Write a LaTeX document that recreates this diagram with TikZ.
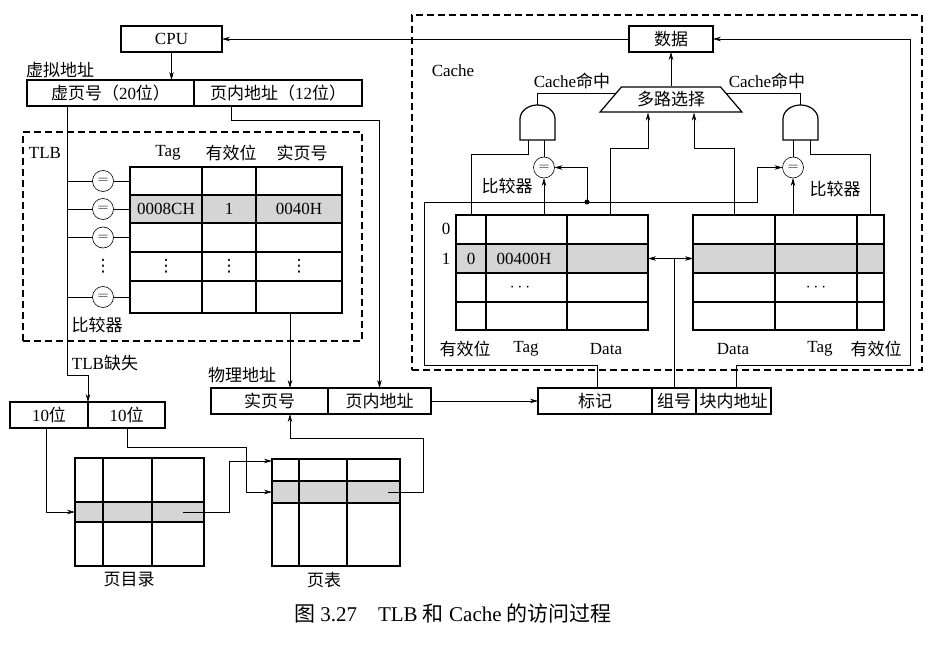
\documentclass[tikz,border=0pt]{standalone}
\usepackage{fontspec}
\setmainfont{Liberation Serif}
\newfontfamily\zhfont{Noto Sans CJK SC}
\newfontfamily\symfont{DejaVu Sans}
\newcommand{\zh}[1]{{\zhfont #1}}
\newcommand{\vdts}{{\symfont ⋮}}
\usetikzlibrary{arrows.meta, positioning, calc, shapes.geometric}

\begin{document}
\begin{tikzpicture}[x=1pt, y=-1pt, >={Stealth[length=8pt,width=4.5pt]}, line width=0.6pt,
    font=\fontsize{17}{19}\selectfont,
    field/.style={rectangle, draw, line width=1.2pt, minimum height=26pt, inner sep=0pt, outer sep=0pt},
    tbl/.style={rectangle, draw, line width=1.2pt, inner sep=0pt, outer sep=0pt},
    sel/.style={rectangle, fill=gray!33, inner sep=0pt, outer sep=0pt},
    grid line/.style={line width=1.2pt},
    cmp/.style={circle, draw, minimum size=21pt, inner sep=0pt, outer sep=0pt, font=\fontsize{14}{14}\selectfont},
    gatebox/.style={minimum width=35pt, minimum height=35pt, inner sep=0pt, outer sep=0pt},
    dashbox/.style={rectangle, draw, line width=1.2pt, dash pattern=on 7pt off 4pt, inner sep=0pt},
    lbl/.style={inner sep=0pt}]
    \useasboundingbox (0,0) rectangle (932,647);

    % CPU and virtual address
    \node[field, minimum width=101pt] (cpu) at (171.5,39) {CPU};
    \node[lbl] (lblva) at (60,70) {\zh{虚拟地址}};
    \node[field, minimum width=167pt] (vpn) at (110.5,93) {\zh{虚页号（}20\zh{位）}};
    \node[field, minimum width=168pt, right=0pt of vpn] (voff) {\zh{页内地址（}12\zh{位）}};
    \coordinate (bus) at ([xshift=40pt]vpn.south west);

    % TLB
    \node[dashbox, minimum width=339pt, minimum height=209pt] (tlbbox) at (192.5,236.5) {};
    \node[lbl] (lbltlb) at (45,153) {TLB};
    \node[lbl] (htag) at (168,153) {Tag};
    \node[lbl] (hvalid) at (231,153) {\zh{有效位}};
    \node[lbl] (hppn) at (302,153) {\zh{实页号}};
    \node[sel, minimum width=212pt, minimum height=28pt] (tlbsel) at (236,209) {};
    \node[tbl, minimum width=212pt, minimum height=146pt] (tlb) at (236,240) {};
    \foreach \x in {202,256}
        \draw[grid line] (\x,167) -- (\x,313);
    \foreach \y in {195,223,252,281}
        \draw[grid line] (130,\y) -- (342,\y);
    \node[lbl] (ttag) at (166,209) {0008CH};
    \node[lbl] (tvalid) at (229,209) {1};
    \node[lbl] (tppn) at (299,209) {0040H};
    \foreach \x [count=\i] in {166,229,299}
        \node[lbl] (tdots\i) at (\x,266.5) {\vdts};
    \foreach \n/\y in {1/181,2/209,3/237.5,5/297} {
        \node[cmp] (c\n) at (103,\y) {$=$};
        \draw (c\n.west) -- (c\n.west -| bus);
        \draw (c\n.east) -- (c\n.east -| tlb.west);
    }
    \node[lbl] (cdots) at (103,266.5) {\vdts};
    \node[lbl] (lblcmp) at (97,325) {\zh{比较器}};
    \node[lbl] (lblmiss) at (105,363) {TLB\zh{缺失}};
    \coordinate (tlbout) at ([xshift=-52pt]tlb.south east);

    % physical address
    \node[lbl] (lblpa) at (242,375) {\zh{物理地址}};
    \node[field, minimum width=117pt] (ppn) at (269.5,401) {\zh{实页号}};
    \node[field, minimum width=103pt, right=0pt of ppn] (poff) {\zh{页内地址}};

    % page directory and page table
    \node[field, minimum width=78pt] (d1) at (49,415) {10\zh{位}};
    \node[field, minimum width=77pt, right=0pt of d1] (d2) {10\zh{位}};
    \node[sel, minimum width=129pt, minimum height=20pt] (pdsel) at (139.5,512) {};
    \node[tbl, minimum width=129pt, minimum height=108pt] (pd) at (139.5,512) {};
    \foreach \x in {103,152}
        \draw[grid line] (\x,458) -- (\x,566);
    \foreach \y in {502,522}
        \draw[grid line] (75,\y) -- (204,\y);
    \node[lbl] (lblpd) at (129,580) {\zh{页目录}};
    \node[sel, minimum width=128pt, minimum height=22pt] (ptsel) at (336,492) {};
    \node[tbl, minimum width=128pt, minimum height=107pt] (pt) at (336,512.5) {};
    \foreach \x in {299,347}
        \draw[grid line] (\x,459) -- (\x,566);
    \foreach \y in {481,503}
        \draw[grid line] (272,\y) -- (400,\y);
    \node[lbl] (lblpt) at (324,580) {\zh{页表}};

    % Cache
    \node[dashbox, minimum width=510pt, minimum height=355pt] (cache) at (667,192.5) {};
    \node[lbl] (lblcache) at (453,71) {Cache};
    \node[field, minimum width=84pt] (data) at (671,39) {\zh{数据}};
    \node[trapezium, draw, line width=1.2pt, trapezium angle=47, trapezium stretches=true,
        minimum width=143pt, minimum height=25pt, inner sep=0pt] (mux) at (671,99.5) {\zh{多路选择}};
    \node[gatebox] (gL) at (537.5,122.5) {};
    \node[gatebox] (gR) at (800.5,122.5) {};
    \foreach \g in {gL,gR}
        \draw[line width=1.2pt] (\g.south west) -- ([yshift=21pt]\g.south west)
            arc[start angle=180, end angle=0, x radius=17.5pt, y radius=14pt] -- (\g.south east) -- cycle;
    \node[lbl] (hitL) at (572,81) {Cache\zh{命中}};
    \node[lbl] (hitR) at (767,81) {Cache\zh{命中}};
    \node[cmp] (cmpL) at (544,167.5) {$=$};
    \node[cmp] (cmpR) at (793,167.5) {$=$};
    \node[lbl] (lblcmpL) at (507,186) {\zh{比较器}};
    \node[lbl] (lblcmpR) at (835,189) {\zh{比较器}};

    \node[sel, minimum width=192pt, minimum height=29pt] (ctLsel) at (552,258.5) {};
    \node[tbl, minimum width=192pt, minimum height=115pt] (ctL) at (552,272.5) {};
    \node[sel, minimum width=191pt, minimum height=29pt] (ctRsel) at (788.5,258.5) {};
    \node[tbl, minimum width=191pt, minimum height=115pt] (ctR) at (788.5,272.5) {};
    \foreach \x in {486,567,775,857}
        \draw[grid line] (\x,215) -- (\x,330);
    \foreach \y in {244,273,302} {
        \draw[grid line] (456,\y) -- (648,\y);
        \draw[grid line] (693,\y) -- (884,\y);
    }
    \node[lbl] (row0) at (446,229) {0};
    \node[lbl] (row1) at (446,258.5) {1};
    \node[lbl] (cvalid) at (471,258.5) {0};
    \node[lbl] (ctag) at (524,258.5) {00400H};
    \node[lbl] (cdotsL) at (520,287.5) {$\cdots$};
    \node[lbl] (cdotsR) at (816,287.5) {$\cdots$};
    \node[lbl] (fvL) at (465,349) {\zh{有效位}};
    \node[lbl] (ftL) at (526,349) {Tag};
    \node[lbl] (fdL) at (606,349) {Data};
    \node[lbl] (fdR) at (733,349) {Data};
    \node[lbl] (ftR) at (820,349) {Tag};
    \node[lbl] (fvR) at (876,349) {\zh{有效位}};

    % cache address
    \node[field, minimum width=114pt] (tagf) at (595,401) {\zh{标记}};
    \node[field, minimum width=44pt, right=0pt of tagf] (setf) {\zh{组号}};
    \node[field, minimum width=75pt, right=0pt of setf] (offf) {\zh{块内地址}};

    % connectors
    \draw[->] (cpu.south) -- (cpu.south |- vpn.north);
    \draw[->] (data.west) -- (cpu.east);
    \draw[->] ([xshift=37pt]voff.south west) -- ++(0,14) -| (poff.north);
    \draw[->] (bus) |- ([yshift=27pt]d1.north east) -- (d1.north east);
    \draw[->] (tlbout) -- (tlbout |- ppn.north);
    \draw[->] (poff.east) -- (tagf.west);
    \draw[->] ([xshift=36pt]d1.south west) |- (pdsel.west);
    \draw[->] ([xshift=-21pt]pdsel.east) -| ([xshift=-43pt,yshift=-2pt]pt.north west) -- ([yshift=-2pt]pt.north west);
    \draw[->] ([xshift=39pt]d2.south west) -- ++(0,19) -| ([xshift=-26pt]ptsel.west) -- (ptsel.west);
    \draw[->] ([xshift=-12pt]ptsel.east) -- ++(35,0) -- ++(0,-54) -| (tlbout |- ppn.south);

    \draw[->] (mux.top side) -- (data.south);
    \draw (gL.north) |- ($(mux.top left corner)!0.25!(mux.bottom left corner)$);
    \draw (gR.north) |- ($(mux.top right corner)!0.25!(mux.bottom right corner)$);
    \draw (cmpL.north) -- (cmpL.north |- gL.south);
    \draw (cmpR.north) -- (cmpR.north |- gR.south);
    \draw ([xshift=8pt]gL.south west) -- ++(0,14) -| ([xshift=15pt]ctL.north west);
    \draw ([xshift=-8pt]gR.south east) -- ++(0,14) -| ([xshift=-14pt]ctR.north east);
    \draw[->] (cmpL.south |- ctL.north) -- (cmpL.south);
    \draw[->] (cmpR.south |- ctR.north) -- (cmpR.south);
    \draw[->] ([xshift=-38pt]ctL.north east) |- ([xshift=-23pt,yshift=-36pt]mux.bottom side) -- ([xshift=-23pt]mux.bottom side);
    \draw[->] ([xshift=41pt]ctR.north west) |- ([xshift=23pt,yshift=-36pt]mux.bottom side) -- ([xshift=23pt]mux.bottom side);
    \draw[->] ([xshift=59pt]tagf.north west) -- ++(0,-23) -| ([xshift=-32pt,yshift=13pt]ctL.north west)
        -| ([xshift=-25pt]cmpR.west) -- (cmpR.west);
    \coordinate (tagdot) at ([xshift=131pt,yshift=13pt]ctL.north west);
    \fill (tagdot) circle[radius=2.5pt];
    \draw[->] (tagdot) |- (cmpL.east);
    \draw[<->] (ctLsel.east) -- (ctRsel.west);
    \draw (setf.north) -- (setf.north |- ctLsel.east);
    \draw[->] ([xshift=40pt]offf.north west) -- ++(0,-23) -| ([xshift=197pt]data.east) -- (data.east);

    % caption
    \node[lbl, font=\fontsize{21}{23}\selectfont] (caption) at (453,613) {\zh{图} 3.27\quad TLB \zh{和} Cache \zh{的访问过程}};
\end{tikzpicture}
\end{document}
